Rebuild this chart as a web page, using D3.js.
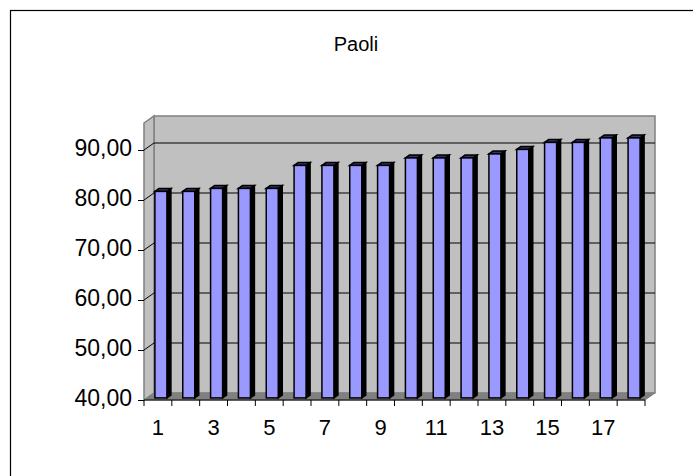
<!DOCTYPE html>
<html>
<head>
<meta charset="utf-8">
<script src="https://cdn.jsdelivr.net/npm/d3@7"></script>
<style>
  body { margin: 0; background: #fff; }
  text { font-family: Arial, "Liberation Sans", sans-serif; fill: #000; }
</style>
</head>
<body>
<svg id="chart" width="693" height="476"></svg>
<script>
var title = "Paoli";
var categories = ["1","2","3","4","5","6","7","8","9","10","11","12","13","14","15","16","17","18"];
var values = [81.3, 81.3, 81.9, 81.9, 81.9, 86.5, 86.5, 86.5, 86.5, 88.0, 88.0, 88.0, 88.8, 89.7, 91.1, 91.1, 92.0, 92.0];
var yTicks = [40, 50, 60, 70, 80, 90];

var svg = d3.select("#chart");

// outer frame (runs off the picture to the right and bottom)
svg.append("rect")
    .attr("x", 10.5).attr("y", 10.5)
    .attr("width", 720).attr("height", 520)
    .attr("fill", "none").attr("stroke", "#000").attr("stroke-width", 1.2);

svg.append("text")
    .attr("x", 356).attr("y", 51)
    .attr("text-anchor", "middle")
    .style("font-size", "20px")
    .text(title);

// front plane scales, depth offset for back wall
var x = d3.scaleBand().domain(categories).range([144, 645]);
var y = d3.scaleLinear().domain([40, 95.4]).range([400, 123]);
var dx = 10, dy = -7;

var locale = d3.formatLocale({decimal: ",", thousands: ".", grouping: [3], currency: ["", ""]});
var fmt = locale.format(".2f");

var x0 = x.range()[0], x1 = x.range()[1];
var yb = y(40), yt = y(y.domain()[1]);

function poly(pts) { return pts.map(function(p) { return p.join(","); }).join(" "); }

// back wall
svg.append("polygon")
    .attr("points", poly([[x0 + dx, yt + dy], [x1 + dx, yt + dy], [x1 + dx, yb + dy], [x0 + dx, yb + dy]]))
    .attr("fill", "#c0c0c0").attr("stroke", "#808080").attr("stroke-width", 1.5);
// side wall
svg.append("polygon")
    .attr("points", poly([[x0, yt], [x0 + dx, yt + dy], [x0 + dx, yb + dy], [x0, yb]]))
    .attr("fill", "#c0c0c0").attr("stroke", "#808080").attr("stroke-width", 1.5);
// floor
svg.append("polygon")
    .attr("points", poly([[x0, yb], [x0 + dx, yb + dy], [x1 + dx, yb + dy], [x1, yb]]))
    .attr("fill", "#808080").attr("stroke", "#808080").attr("stroke-width", 1);

// gridlines on back wall and side wall
var grid = svg.append("g");
yTicks.filter(function(t) { return t > 40; }).forEach(function(t) {
    grid.append("line")
        .attr("x1", x0 + dx).attr("x2", x1 + dx)
        .attr("y1", y(t) + dy).attr("y2", y(t) + dy)
        .attr("stroke", "#000").attr("stroke-width", 1);
    grid.append("line")
        .attr("x1", x0).attr("x2", x0 + dx)
        .attr("y1", y(t)).attr("y2", y(t) + dy)
        .attr("stroke", "#000").attr("stroke-width", 1);
});

// bars
var f0 = 0.3, fd = 0.4, bw = 12;
var bars = svg.append("g").selectAll("g")
    .data(values)
    .enter()
    .append("g");

function bx(d, i) { return x(categories[i]) + (x.bandwidth() - bw) / 2 + f0 * dx; }

bars.append("polygon")
    .attr("points", function(d, i) {
        var l = bx(d, i), r = l + bw, t = y(d) + f0 * dy, b = yb + f0 * dy;
        return poly([[r, t], [r + fd * dx, t + fd * dy], [r + fd * dx, b + fd * dy], [r, b]]);
    })
    .attr("fill", "#000").attr("stroke", "#000").attr("stroke-width", 1.5);

bars.append("polygon")
    .attr("points", function(d, i) {
        var l = bx(d, i), r = l + bw, t = y(d) + f0 * dy;
        return poly([[l, t], [r, t], [r + fd * dx, t + fd * dy], [l + fd * dx, t + fd * dy]]);
    })
    .attr("fill", "#333366").attr("stroke", "#000").attr("stroke-width", 1.5);

bars.append("rect")
    .attr("x", function(d, i) { return bx(d, i); })
    .attr("y", function(d) { return y(d) + f0 * dy; })
    .attr("width", bw)
    .attr("height", function(d) { return yb - y(d); })
    .attr("fill", "#9999ff").attr("stroke", "#000").attr("stroke-width", 1.5);

// y axis
var yAxis = d3.axisLeft(y).tickValues(yTicks).tickSize(6).tickPadding(6).tickFormat(fmt);
var ya = svg.append("g").attr("transform", "translate(" + x0 + ",0)").call(yAxis);
ya.select(".domain").remove();
ya.selectAll("line").attr("stroke", "#000");
ya.selectAll("text").style("font-size", "23px").attr("font-family", null).attr("dy", "0.25em");

// x axis: ticks at category boundaries, labels on odd categories
var xa = svg.append("g");
xa.append("line")
    .attr("x1", x0).attr("x2", x1).attr("y1", yb).attr("y2", yb)
    .attr("stroke", "#000").attr("stroke-width", 1.2);
d3.range(categories.length + 1).forEach(function(i) {
    var px = x0 + i * x.step();
    xa.append("line")
        .attr("x1", px).attr("x2", px).attr("y1", yb).attr("y2", yb + 6)
        .attr("stroke", "#000");
});
xa.selectAll("text")
    .data(categories.filter(function(c, i) { return i % 2 == 0; }))
    .enter()
    .append("text")
    .attr("x", function(c) { return x(c) + x.bandwidth() / 2; })
    .attr("y", 435)
    .attr("text-anchor", "middle")
    .style("font-size", "22px")
    .text(function(c) { return c; });
</script>
</body>
</html>
